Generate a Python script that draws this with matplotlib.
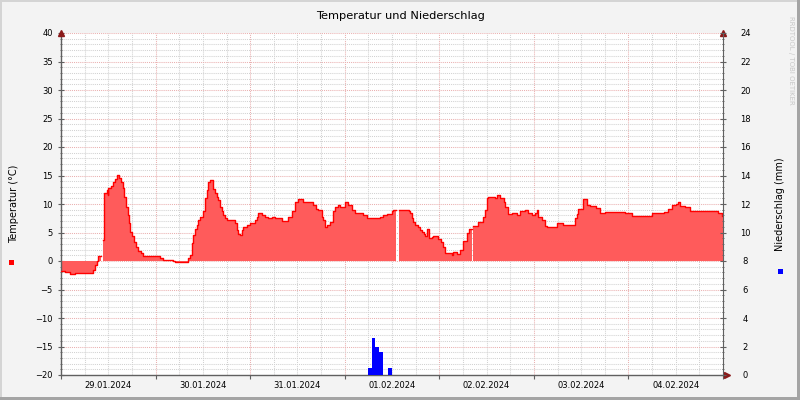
import numpy as np
import matplotlib
matplotlib.use("Agg")
import matplotlib.pyplot as plt
from matplotlib.ticker import MultipleLocator, FuncFormatter
from matplotlib.patches import Rectangle

# hours since 29.01.2024 00:00, values held until the next reading
TEMP_HOURS = [0, 1.0, 2.3, 3.6, 8.2, 8.6, 9.1, 9.5, 9.9, 10.2, 10.7, 11.0, 11.6, 11.9, 12.0, 12.7,
              13.1, 13.7, 14.1, 14.7, 15.2, 15.7, 16.1, 16.5, 16.9, 17.3, 17.6, 18.1, 18.5,
              19.0, 19.6, 20.3, 20.9, 25.1, 26.0, 28.5, 28.9, 31.5, 32.2, 32.7, 33.2, 33.6,
              34.0, 34.4, 34.8, 35.3, 36.1, 36.5, 37.0, 37.4, 37.8, 38.7, 39.1, 39.5, 39.9,
              40.4, 40.8, 41.2, 41.6, 42.1, 44.2, 44.6, 45.0, 45.4, 45.9, 46.3, 47.1, 48.0,
              49.2, 49.7, 50.1, 50.9, 51.8, 52.6, 53.5, 54.3, 55.2, 56.0, 57.7, 58.6, 59.4,
              60.2, 61.5, 64.0, 64.7, 65.3, 66.2, 66.6, 67.0, 67.4, 68.3, 69.1, 69.5, 70.2,
              70.8, 72.1, 72.9, 73.8, 74.6, 76.7, 77.6, 81.0, 81.8, 82.7, 83.9, 84.3, 84.7, 85.0,
              85.9, 88.2, 88.6, 89.0, 89.4, 89.8, 90.7, 91.1, 91.5, 92.0, 92.4, 92.8, 93.4,
              94.1, 94.5, 95.8, 96.4, 97.0, 97.5, 99.2, 99.6, 100.4, 101.3, 102.1, 103.0,
              103.6, 103.9, 104.2, 104.6, 105.9, 107.2, 107.6, 108.0, 108.3, 110.2, 110.6, 111.4,
              112.3, 112.7, 113.5, 114.4, 115.7, 116.5, 117.8, 118.6, 119.5, 120.3, 120.7,
              121.1, 122.0, 122.8, 123.3, 125.8, 127.5, 130.5, 130.9, 131.3, 132.5, 133.5,
              134.3, 135.8, 136.8, 138.1, 143.1, 144.9, 150.0, 153.0, 154.1, 155.1, 156.1,
              156.6, 157.1, 158.4, 159.6, 160.9, 164.7, 166.8, 167.8, 168.0]
TEMP_VALUES = [-1.75, -2.0, -2.2, -2.1, -1.6, -0.7, 0.0, 0.9, 0.9, np.nan, 3.7, 11.9, 12.5, 11.5, 12.8, 13.1,
               13.9, 14.4, 15.1, 14.5, 13.9, 12.8, 11.3, 9.5, 8.1, 6.6, 5.1, 4.3, 3.3,
               2.5, 1.75, 1.35, 0.9, 0.6, 0.2, 0.0, -0.1, -0.1, 0.5, 1.0, 3.1, 4.6,
               5.7, 6.3, 7.2, 7.8, 8.7, 11.0, 12.5, 13.9, 14.2, 12.7, 11.9, 11.3, 10.7,
               9.5, 8.7, 8.1, 7.6, 7.2, 6.6, 5.4, 4.8, 4.6, 5.4, 6.0, 6.3, 6.7,
               7.2, 7.8, 8.5, 8.1, 7.8, 7.6, 7.8, 7.6, 7.5, 7.0, 7.8, 8.7, 10.4,
               10.9, 10.3, 9.8, 9.2, 8.9, 7.8, 7.2, 6.0, 6.3, 6.8, 8.7, 9.4, 9.8,
               9.5, 10.3, 9.8, 8.9, 8.5, 8.1, 7.5, 7.7, 8.1, 8.3, 8.7, 9.0, 9.0, np.nan,
               9.0, 8.8, 8.4, 7.5, 6.8, 6.3, 6.0, 5.4, 5.1, 4.8, 4.4, 5.7, 4.0,
               4.2, 4.4, 3.9, 3.3, 2.4, 1.4, 1.0, 1.5, 1.3, 1.9, 3.5, 4.9,
               5.6, 5.6, np.nan, 6.1, 6.9, 7.8, 9.0, 11.1, 11.3, 11.0, 11.6, 11.0,
               10.4, 9.5, 8.2, 8.4, 8.1, 8.7, 8.9, 8.4, 8.1, 8.4, 9.0,
               7.7, 7.2, 6.2, 6.0, 6.7, 6.3, 7.5, 8.2, 9.1, 10.8, 9.8,
               9.7, 9.3, 8.4, 8.6, 8.4, 7.9, 8.5, 8.6, 9.2, 9.8, 10.0,
               10.4, 9.7, 9.5, 8.7, 8.8, 8.7, 8.4, 7.9, 7.9]

RAIN_HOURS = [77.8, 78.8, 79.8, 80.8, 83.0]
RAIN_MM = [0.5, 2.6, 2.0, 1.6, 0.5]

DAY_LABELS = ["29.01.2024", "30.01.2024", "31.01.2024", "01.02.2024",
              "02.02.2024", "03.02.2024", "04.02.2024"]

TITLE = "Temperatur und Niederschlag"
BG = "#f3f3f3"
AXIS_COL = "#606060"
ARROW_COL = "#8b1a1a"
MGRID = "#eab0b0"
GRID = "#d2d2d2"
TICK_FS = 6


def as_steps(x, y):
    xs = np.repeat(np.asarray(x, float), 2)[1:]
    ys = np.repeat(np.asarray(y, float), 2)[:-1]
    return xs, ys


def day_label(h, pos):
    if int(round(h)) % 24 == 12:
        i = int(h // 24)
        if 0 <= i < len(DAY_LABELS):
            return DAY_LABELS[i]
    return ""


fig = plt.figure(figsize=(8, 4), dpi=100, facecolor=BG)
ax = fig.add_axes([61 / 800, 25 / 400, 662 / 800, 342 / 400])
ax.set_facecolor("white")

xs, ys = as_steps(TEMP_HOURS, TEMP_VALUES)
ax.fill_between(xs, 0, ys, color="#ff5b5b", lw=0, zorder=2)
ax.plot(xs, ys, color="#ff0000", lw=1.0, zorder=3)

ax.set_xlim(0, 168)
ax.set_ylim(-20, 40)

ax.xaxis.set_major_locator(MultipleLocator(24))
ax.xaxis.set_minor_locator(MultipleLocator(6))
ax.xaxis.set_major_formatter(FuncFormatter(lambda h, p: ""))
ax.xaxis.set_minor_formatter(FuncFormatter(day_label))
ax.yaxis.set_major_locator(MultipleLocator(5))
ax.yaxis.set_minor_locator(MultipleLocator(1))

ax.set_axisbelow(True)
ax.grid(which="minor", color=GRID, linestyle=(0, (1, 1)), lw=0.75)
ax.grid(which="major", color=MGRID, linestyle=(0, (1, 1)), lw=0.75)

ax.tick_params(axis="x", which="major", length=3, direction="out", color=AXIS_COL)
ax.tick_params(axis="x", which="minor", length=0, pad=4, labelsize=TICK_FS)
ax.tick_params(axis="y", which="major", length=4, direction="inout", color=AXIS_COL,
               labelsize=TICK_FS, pad=4)
ax.tick_params(axis="y", which="minor", length=2, direction="inout", color=AXIS_COL)

for side in ["top", "right"]:
    ax.spines[side].set_visible(False)
for side in ["left", "bottom"]:
    ax.spines[side].set_color(AXIS_COL)
    ax.spines[side].set_linewidth(1.0)

ax2 = ax.twinx()
ax2.bar(RAIN_HOURS, RAIN_MM, width=1.0, align="edge", color="#0000ff", lw=0, zorder=2)
ax2.set_ylim(0, 24)
ax2.yaxis.set_major_locator(MultipleLocator(2))
ax2.yaxis.set_minor_locator(MultipleLocator(0.4))
ax2.tick_params(axis="y", which="major", length=4, direction="inout", color=AXIS_COL,
                labelsize=TICK_FS, pad=14)
ax2.tick_params(axis="y", which="minor", length=2, direction="inout", color=AXIS_COL)
for lab in ax2.get_yticklabels():
    lab.set_horizontalalignment("center")
for side in ["top", "left", "bottom"]:
    ax2.spines[side].set_visible(False)
ax2.spines["right"].set_color(AXIS_COL)

# axis arrows
ax.plot([0], [1], marker="^", ms=4, color=ARROW_COL, transform=ax.transAxes, clip_on=False, zorder=5)
ax.plot([1], [1], marker="^", ms=4, color=ARROW_COL, transform=ax.transAxes, clip_on=False, zorder=5)
ax.plot([1.006], [0], marker=">", ms=4, color=ARROW_COL, transform=ax.transAxes, clip_on=False, zorder=5)

fig.text(0.5, 1 - 16 / 400, TITLE, ha="center", va="center", fontsize=8.2)
fig.text(14 / 800, 1 - 204 / 400, "Temperatur (°C)", rotation=90, ha="center", va="center", fontsize=7)
fig.text(780 / 800, 1 - 204 / 400, "Niederschlag (mm)", rotation=90, ha="center", va="center", fontsize=7)
fig.text(791 / 800, 1 - 60 / 400, "RRDTOOL / TOBI OETIKER", rotation=270, ha="center", va="center",
         fontsize=5, color="#c8c8c8")

fig.add_artist(Rectangle((9 / 800, 1 - 264.5 / 400), 5 / 800, 5 / 400, transform=fig.transFigure,
                         color="#ff0000", lw=0))
fig.add_artist(Rectangle((777.5 / 800, 1 - 273.5 / 400), 5 / 800, 5 / 400, transform=fig.transFigure,
                         color="#0000ff", lw=0))

# window border
fig.add_artist(Rectangle((0, 1 - 2 / 400), 1, 2 / 400, transform=fig.transFigure, color="#d4d4d4", lw=0))
fig.add_artist(Rectangle((0, 0), 2 / 800, 1, transform=fig.transFigure, color="#d4d4d4", lw=0))
fig.add_artist(Rectangle((0, 0), 1, 3 / 400, transform=fig.transFigure, color="#a4a4a4", lw=0))
fig.add_artist(Rectangle((1 - 3 / 800, 0), 3 / 800, 1, transform=fig.transFigure, color="#a4a4a4", lw=0))

fig.savefig("out.png", dpi=100, facecolor=BG)
